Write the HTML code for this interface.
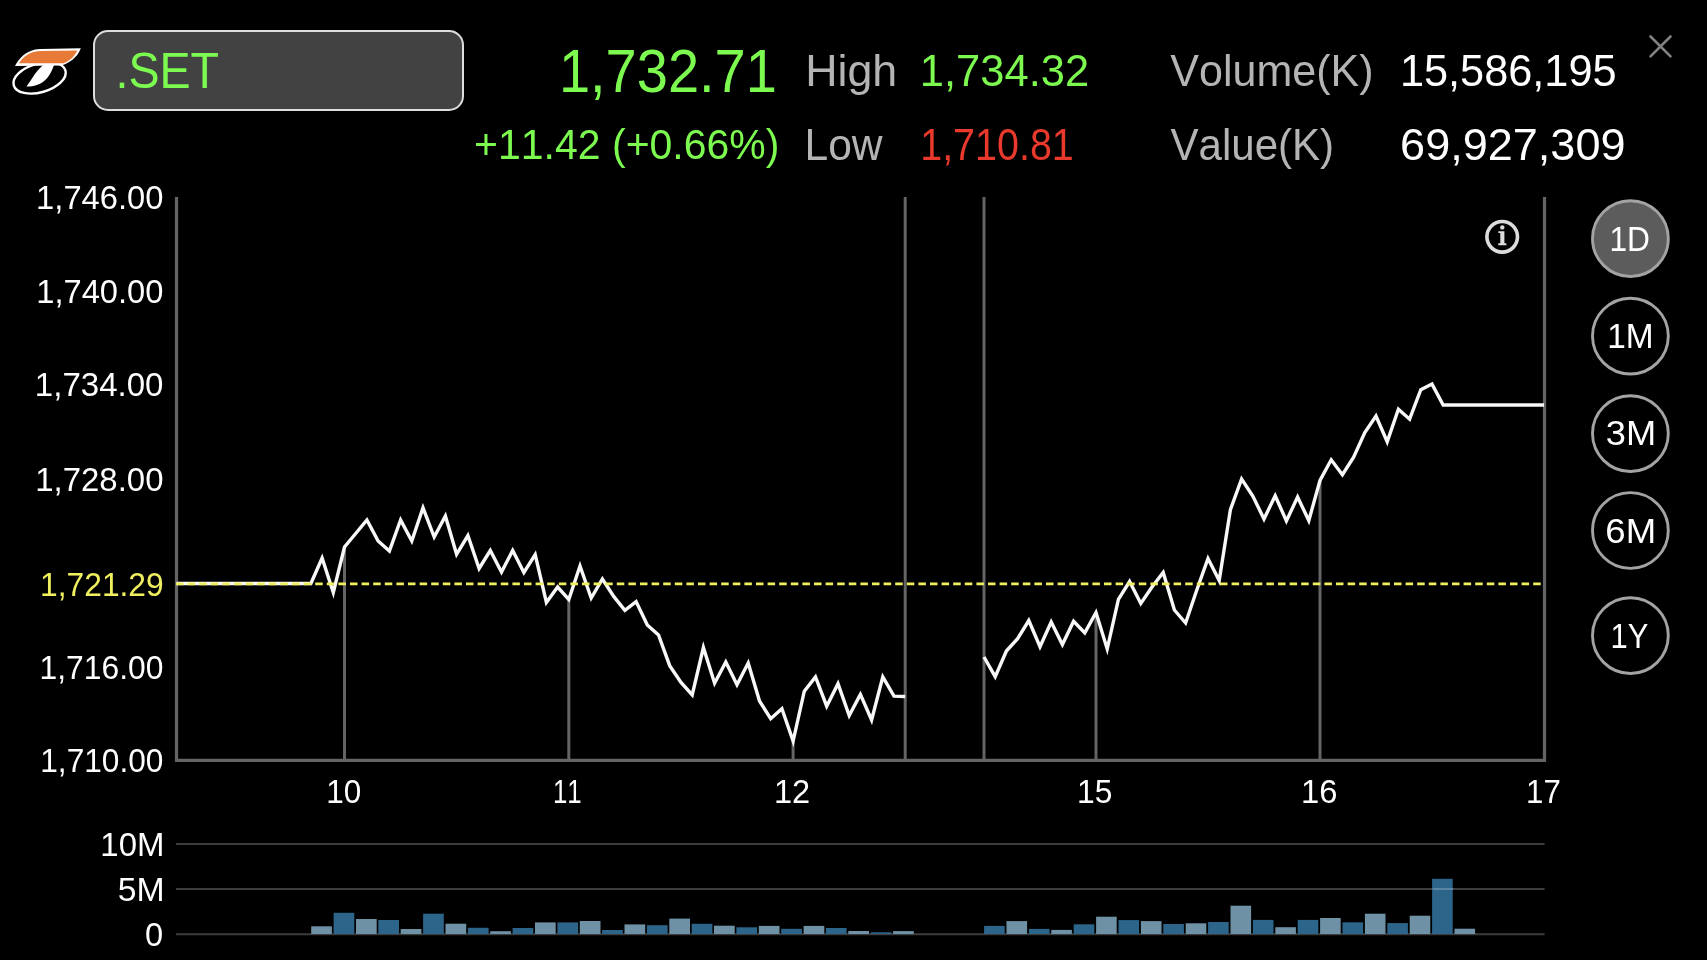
<!DOCTYPE html>
<html><head><meta charset="utf-8"><style>
html,body{margin:0;padding:0;background:#000;}
body{width:1707px;height:960px;overflow:hidden;position:relative;}
svg{position:absolute;left:0;top:0;will-change:transform;}
text{font-family:"Liberation Sans",sans-serif;font-kerning:none;}
</style></head><body>
<svg width="1707" height="960" viewBox="0 0 1707 960">
<rect width="1707" height="960" fill="#000"/>
<g>
<ellipse cx="39.6" cy="77.9" rx="26.9" ry="14.4" transform="rotate(-16 39.6 77.9)" fill="none" stroke="#fff" stroke-width="2.4"/>
<path d="M43.3 65 L54 65 C51.5 72.5 47.5 80 40 83.8 C36 85.8 31 86.6 26.5 86.6 C30 82 32.5 77.5 35.3 73.6 C38 69.8 40.5 67.3 43.3 65 Z" fill="#fff"/>
<path d="M15 65.9 C18.5 59 26 49.5 40 49 L80.8 48.2 C79 53.5 73 62 61.5 65.4 Z" fill="#fff"/>
<path d="M18.9 63.3 C22.5 57.5 29 51.2 40 50.9 L77.3 50.5 C75.5 55 70.5 60.8 63.5 63.2 Z" fill="#e87a37"/>
</g>
<rect x="94" y="31" width="369" height="79" rx="14" fill="#424242" stroke="#dedede" stroke-width="2"/>
<g stroke="#818181" stroke-width="2.6" stroke-linecap="round"><line x1="1650.5" y1="36.5" x2="1670.5" y2="56.3"/><line x1="1670.5" y1="36.5" x2="1650.5" y2="56.3"/></g>
<path d="M176.5 197 V760.3 H1544.5 V197" fill="none" stroke="#646464" stroke-width="3.2"/>
<g stroke="#646464" stroke-width="3"><line x1="344.5" y1="547.0" x2="344.5" y2="760" /><line x1="568.8" y1="599.5" x2="568.8" y2="760" /><line x1="793.1" y1="741.0" x2="793.1" y2="760" /><line x1="1096.0" y1="612.5" x2="1096.0" y2="760" /><line x1="1320.0" y1="480.5" x2="1320.0" y2="760" /><line x1="905.2" y1="197" x2="905.2" y2="760"/><line x1="984" y1="197" x2="984" y2="760"/></g>
<path d="M176.5 583.5 L310.9 583.5 L322.1 558.0 L333.3 592.5 L344.5 547.0 L355.7 533.5 L366.9 520.0 L378.1 541.0 L389.4 551.0 L400.6 520.0 L411.8 541.0 L423.0 507.8 L434.2 537.0 L445.4 516.0 L456.6 554.3 L467.9 535.5 L479.1 568.5 L490.3 550.5 L501.5 572.0 L512.7 550.5 L523.9 572.5 L535.2 554.7 L546.4 602.5 L557.6 587.0 L568.8 599.5 L580.0 566.0 L591.2 598.0 L602.4 579.0 L613.7 596.4 L624.9 610.3 L636.1 601.6 L647.3 625.0 L658.5 635.0 L669.7 665.7 L681.0 682.5 L692.2 695.0 L703.4 647.5 L714.6 683.2 L725.8 662.0 L737.0 684.7 L748.2 663.0 L759.5 701.0 L770.7 718.7 L781.9 708.7 L793.1 741.0 L804.3 691.2 L815.5 676.9 L826.7 706.2 L838.0 683.7 L849.2 715.6 L860.4 694.4 L871.6 720.0 L882.8 676.9 L894.0 696.2 L905.2 696.5" fill="none" stroke="#f8f8f8" stroke-width="3.4" stroke-linejoin="miter" stroke-miterlimit="10"/>
<path d="M984.0 657.0 L995.2 676.6 L1006.4 651.0 L1017.6 638.7 L1028.8 620.5 L1040.0 646.7 L1051.2 622.0 L1062.4 644.6 L1073.6 621.2 L1084.8 632.9 L1096.0 612.5 L1107.2 649.0 L1118.4 599.4 L1129.6 581.5 L1140.8 603.4 L1152.0 587.0 L1163.2 572.5 L1174.4 610.0 L1185.6 623.0 L1196.8 590.0 L1208.0 558.5 L1219.2 580.5 L1230.4 509.7 L1241.6 479.0 L1252.8 496.0 L1264.0 519.0 L1275.2 495.7 L1286.4 521.0 L1297.6 497.0 L1308.8 520.6 L1320.0 480.5 L1331.2 459.8 L1342.4 474.7 L1353.6 457.2 L1364.8 432.6 L1376.0 416.0 L1387.2 441.7 L1398.4 409.2 L1409.6 419.2 L1420.8 389.7 L1432.0 384.1 L1443.2 405.0 L1544.0 405.0" fill="none" stroke="#f8f8f8" stroke-width="3.4" stroke-linejoin="miter" stroke-miterlimit="10"/>
<line x1="176" y1="583.8" x2="1543" y2="583.8" stroke="#f0ef5f" stroke-width="2.7" stroke-dasharray="7.5 4.1"/>
<g stroke="#3c3c3c" stroke-width="2"><line x1="176" y1="844" x2="1544.6" y2="844"/><line x1="176" y1="889" x2="1544.6" y2="889"/><line x1="176" y1="934.3" x2="1544.6" y2="934.3"/></g>
<rect x="311.2" y="926.3" width="20.7" height="7.7" fill="#6e91a5"/><rect x="333.6" y="912.8" width="20.7" height="21.2" fill="#2d648a"/><rect x="356.0" y="919.0" width="20.7" height="15.0" fill="#6e91a5"/><rect x="378.3" y="920.0" width="20.7" height="14.0" fill="#2d648a"/><rect x="400.7" y="929.0" width="20.7" height="5.0" fill="#6e91a5"/><rect x="423.1" y="913.7" width="20.7" height="20.3" fill="#2d648a"/><rect x="445.5" y="923.7" width="20.7" height="10.3" fill="#6e91a5"/><rect x="467.9" y="927.8" width="20.7" height="6.2" fill="#2d648a"/><rect x="490.2" y="931.2" width="20.7" height="2.8" fill="#6e91a5"/><rect x="512.6" y="928.0" width="20.7" height="6.0" fill="#2d648a"/><rect x="535.0" y="922.4" width="20.7" height="11.6" fill="#6e91a5"/><rect x="557.4" y="922.4" width="20.7" height="11.6" fill="#2d648a"/><rect x="579.8" y="921.0" width="20.7" height="13.0" fill="#6e91a5"/><rect x="602.1" y="930.0" width="20.7" height="4.0" fill="#2d648a"/><rect x="624.5" y="924.4" width="20.7" height="9.6" fill="#6e91a5"/><rect x="646.9" y="925.2" width="20.7" height="8.8" fill="#2d648a"/><rect x="669.3" y="918.6" width="20.7" height="15.4" fill="#6e91a5"/><rect x="691.7" y="923.8" width="20.7" height="10.2" fill="#2d648a"/><rect x="714.0" y="925.7" width="20.7" height="8.3" fill="#6e91a5"/><rect x="736.4" y="927.3" width="20.7" height="6.7" fill="#2d648a"/><rect x="758.8" y="925.9" width="20.7" height="8.1" fill="#6e91a5"/><rect x="781.2" y="928.8" width="20.7" height="5.2" fill="#2d648a"/><rect x="803.6" y="925.9" width="20.7" height="8.1" fill="#6e91a5"/><rect x="825.9" y="928.0" width="20.7" height="6.0" fill="#2d648a"/><rect x="848.3" y="931.0" width="20.7" height="3.0" fill="#6e91a5"/><rect x="870.7" y="932.3" width="20.7" height="1.7" fill="#2d648a"/><rect x="893.1" y="931.1" width="20.7" height="2.9" fill="#6e91a5"/><rect x="984.1" y="925.9" width="20.6" height="8.1" fill="#2d648a"/><rect x="1006.5" y="921.1" width="20.6" height="12.9" fill="#6e91a5"/><rect x="1028.9" y="928.9" width="20.6" height="5.1" fill="#2d648a"/><rect x="1051.3" y="929.9" width="20.6" height="4.1" fill="#6e91a5"/><rect x="1073.7" y="924.3" width="20.6" height="9.7" fill="#2d648a"/><rect x="1096.1" y="916.7" width="20.6" height="17.3" fill="#6e91a5"/><rect x="1118.5" y="920.1" width="20.6" height="13.9" fill="#2d648a"/><rect x="1140.9" y="921.1" width="20.6" height="12.9" fill="#6e91a5"/><rect x="1163.3" y="924.0" width="20.6" height="10.0" fill="#2d648a"/><rect x="1185.7" y="923.3" width="20.6" height="10.7" fill="#6e91a5"/><rect x="1208.1" y="922.0" width="20.6" height="12.0" fill="#2d648a"/><rect x="1230.5" y="905.7" width="20.6" height="28.3" fill="#6e91a5"/><rect x="1252.9" y="919.9" width="20.6" height="14.1" fill="#2d648a"/><rect x="1275.3" y="927.2" width="20.6" height="6.8" fill="#6e91a5"/><rect x="1297.7" y="919.9" width="20.6" height="14.1" fill="#2d648a"/><rect x="1320.1" y="918.0" width="20.6" height="16.0" fill="#6e91a5"/><rect x="1342.5" y="922.3" width="20.6" height="11.7" fill="#2d648a"/><rect x="1364.9" y="913.7" width="20.6" height="20.3" fill="#6e91a5"/><rect x="1387.3" y="923.1" width="20.6" height="10.9" fill="#2d648a"/><rect x="1409.7" y="915.7" width="20.6" height="18.3" fill="#6e91a5"/><rect x="1432.1" y="878.8" width="20.6" height="55.2" fill="#2d648a"/><rect x="1454.5" y="928.7" width="20.6" height="5.3" fill="#6e91a5"/>
<line x1="1432.5" y1="889" x2="1453.2" y2="889" stroke="#5a86a6" stroke-width="2"/>
<text x="115.44" y="88.30" font-size="50.50" textLength="103.63" lengthAdjust="spacingAndGlyphs" fill="#7dfa50">.SET</text>
<text x="558.94" y="92.10" font-size="61.80" textLength="217.90" lengthAdjust="spacingAndGlyphs" fill="#7dfa50">1,732.71</text>
<text x="805.13" y="85.70" font-size="44.60" textLength="92.08" lengthAdjust="spacingAndGlyphs" fill="#b4b4b4">High</text>
<text x="919.79" y="85.90" font-size="45.20" textLength="169.40" lengthAdjust="spacingAndGlyphs" fill="#7dfa50">1,734.32</text>
<text x="1170.31" y="85.70" font-size="44.60" textLength="203.26" lengthAdjust="spacingAndGlyphs" fill="#b4b4b4">Volume(K)</text>
<text x="1399.90" y="86.10" font-size="45.20" textLength="216.72" lengthAdjust="spacingAndGlyphs" fill="#ffffff">15,586,195</text>
<text x="474.10" y="159.00" font-size="42.60" textLength="305.34" lengthAdjust="spacingAndGlyphs" fill="#7dfa50">+11.42 (+0.66%)</text>
<text x="804.51" y="160.00" font-size="44.60" textLength="78.09" lengthAdjust="spacingAndGlyphs" fill="#b4b4b4">Low</text>
<text x="920.19" y="160.10" font-size="45.20" textLength="153.63" lengthAdjust="spacingAndGlyphs" fill="#e9392c">1,710.81</text>
<text x="1170.52" y="160.00" font-size="44.60" textLength="163.59" lengthAdjust="spacingAndGlyphs" fill="#b4b4b4">Value(K)</text>
<text x="1400.11" y="160.00" font-size="45.20" textLength="225.42" lengthAdjust="spacingAndGlyphs" fill="#ffffff">69,927,309</text>
<text x="36.11" y="208.80" font-size="33.00" textLength="127.37" lengthAdjust="spacingAndGlyphs" fill="#ffffff">1,746.00</text>
<text x="36.31" y="302.80" font-size="33.00" textLength="127.16" lengthAdjust="spacingAndGlyphs" fill="#ffffff">1,740.00</text>
<text x="34.88" y="396.20" font-size="33.00" textLength="128.61" lengthAdjust="spacingAndGlyphs" fill="#ffffff">1,734.00</text>
<text x="35.29" y="490.80" font-size="33.00" textLength="128.20" lengthAdjust="spacingAndGlyphs" fill="#ffffff">1,728.00</text>
<text x="40.08" y="596.00" font-size="33.00" textLength="123.62" lengthAdjust="spacingAndGlyphs" fill="#f0ef5f">1,721.29</text>
<text x="39.47" y="678.50" font-size="33.00" textLength="123.97" lengthAdjust="spacingAndGlyphs" fill="#ffffff">1,716.00</text>
<text x="40.29" y="771.60" font-size="33.00" textLength="123.15" lengthAdjust="spacingAndGlyphs" fill="#ffffff">1,710.00</text>
<text x="326.30" y="803.00" font-size="33.00" textLength="35.03" lengthAdjust="spacingAndGlyphs" fill="#ffffff">10</text>
<text x="552.93" y="803.00" font-size="33.00" textLength="28.73" lengthAdjust="spacingAndGlyphs" fill="#ffffff">11</text>
<text x="773.92" y="803.00" font-size="33.00" textLength="36.22" lengthAdjust="spacingAndGlyphs" fill="#ffffff">12</text>
<text x="1076.98" y="803.00" font-size="33.00" textLength="35.36" lengthAdjust="spacingAndGlyphs" fill="#ffffff">15</text>
<text x="1301.00" y="803.00" font-size="33.00" textLength="36.43" lengthAdjust="spacingAndGlyphs" fill="#ffffff">16</text>
<text x="1526.02" y="803.00" font-size="33.00" textLength="34.75" lengthAdjust="spacingAndGlyphs" fill="#ffffff">17</text>
<text x="100.39" y="855.50" font-size="32.50" textLength="64.11" lengthAdjust="spacingAndGlyphs" fill="#ffffff">10M</text>
<text x="117.65" y="900.90" font-size="32.50" textLength="46.92" lengthAdjust="spacingAndGlyphs" fill="#ffffff">5M</text>
<text x="144.93" y="946.00" font-size="32.50" textLength="18.15" lengthAdjust="spacingAndGlyphs" fill="#ffffff">0</text>
<circle cx="1502.2" cy="236.8" r="15.3" fill="none" stroke="#dcdcdc" stroke-width="3.6"/>
<circle cx="1502.3" cy="227.4" r="2.2" fill="#dcdcdc"/>
<path d="M1498.3 231.3 H1504.4 V243.2 H1506.4 V245.2 H1498.3 V243.2 H1500.3 V233.1 H1498.3 Z" fill="#dcdcdc"/>
<circle cx="1630.4" cy="238.6" r="37.9" fill="#5c5c5c" stroke="#a3a3a3" stroke-width="2.9"/><text x="1609.48" y="250.80" font-size="34.50" textLength="40.53" lengthAdjust="spacingAndGlyphs" fill="#ffffff">1D</text><circle cx="1630.4" cy="336.1" r="37.9" fill="#000" stroke="#a3a3a3" stroke-width="2.9"/><text x="1607.26" y="348.20" font-size="34.50" textLength="46.38" lengthAdjust="spacingAndGlyphs" fill="#ffffff">1M</text><circle cx="1630.4" cy="433.6" r="37.9" fill="#000" stroke="#a3a3a3" stroke-width="2.9"/><text x="1605.82" y="445.40" font-size="34.50" textLength="50.35" lengthAdjust="spacingAndGlyphs" fill="#ffffff">3M</text><circle cx="1630.4" cy="530.5" r="37.9" fill="#000" stroke="#a3a3a3" stroke-width="2.9"/><text x="1605.34" y="542.50" font-size="34.50" textLength="50.86" lengthAdjust="spacingAndGlyphs" fill="#ffffff">6M</text><circle cx="1630.4" cy="635.6" r="37.9" fill="#000" stroke="#a3a3a3" stroke-width="2.9"/><text x="1610.44" y="647.60" font-size="34.50" textLength="37.84" lengthAdjust="spacingAndGlyphs" fill="#ffffff">1Y</text>
</svg>
</body></html>
